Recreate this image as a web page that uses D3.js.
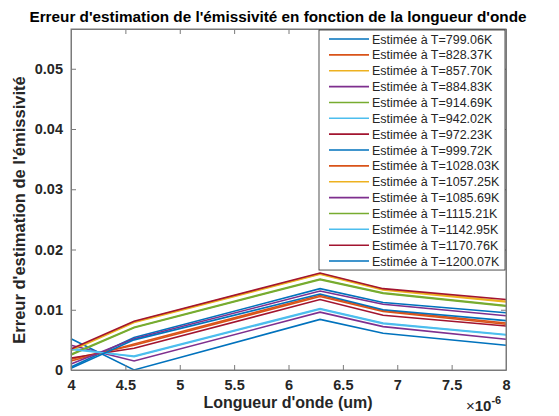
<!DOCTYPE html>
<html>
<head>
<meta charset="utf-8">
<script src="https://cdn.jsdelivr.net/npm/d3@7"></script>
<style>
body { margin: 0; background: #fff; }
text { font-family: "Liberation Sans", Arial, sans-serif; }
.tick text { font-weight: bold; font-size: 14.5px; fill: #262626; }
.label { font-weight: bold; font-size: 16px; fill: #262626; }
</style>
</head>
<body>
<svg id="chart" width="559" height="416"></svg>
<script>
// longueurs d'onde (m)
var wavelengths = [4.0e-6, 4.58e-6, 6.29e-6, 6.87e-6, 8.0e-6];
var temperatures = ["799.06", "828.37", "857.70", "884.83", "914.69", "942.02", "972.23", "999.72",
  "1028.03", "1057.25", "1085.69", "1115.21", "1142.95", "1170.76", "1200.07"];
var errors = [
  [0.0052, 0.0000, 0.0084, 0.0061, 0.0041],
  [0.0018, 0.0041, 0.0122, 0.0097, 0.0076],
  [0.0032, 0.0079, 0.0159, 0.0133, 0.0113],
  [0.0041, 0.0015, 0.0096, 0.0072, 0.0051],
  [0.0025, 0.0070, 0.0150, 0.0127, 0.0106],
  [0.0036, 0.0022, 0.0101, 0.0077, 0.0058],
  [0.0020, 0.0036, 0.0117, 0.0091, 0.0073],
  [0.0005, 0.0054, 0.0135, 0.0112, 0.0095],
  [0.0015, 0.0043, 0.0124, 0.0099, 0.0078],
  [0.0033, 0.0080, 0.0160, 0.0134, 0.0114],
  [0.0010, 0.0052, 0.0131, 0.0109, 0.0090],
  [0.0026, 0.0071, 0.0151, 0.0128, 0.0107],
  [0.0034, 0.0023, 0.0102, 0.0078, 0.0059],
  [0.0035, 0.0081, 0.0161, 0.0135, 0.0117],
  [0.0003, 0.0050, 0.0126, 0.0100, 0.0082]
];
var xTicks = [4, 4.5, 5, 5.5, 6, 6.5, 7, 7.5, 8];
var yTicks = [0, 0.01, 0.02, 0.03, 0.04, 0.05];
var colors = ['#0072BD', '#D95319', '#EDB120', '#7E2F8E', '#77AC30', '#4DBEEE', '#A2142F'];

var svg = d3.select('#chart');
var mLeft = 71, mRight = 506, mTop = 29, mBottom = 370;

var xScale = d3.scaleLinear().domain([4e-6, 8e-6]).range([mLeft, mRight]);
var yScale = d3.scaleLinear().domain([0, 0.0566]).range([mBottom, mTop]);

var axisColor = '#7a7a7a';

// lignes
var line = d3.line()
  .x(function(d, i) { return xScale(wavelengths[i]); })
  .y(function(d) { return yScale(d); });

var plot = svg.append('g');
errors.forEach(function(serie, i) {
  plot.append('path')
    .attr('d', line(serie))
    .attr('fill', 'none')
    .attr('stroke', colors[i % colors.length])
    .attr('stroke-width', 1.6);
});

// axes
var xBottom = svg.append('g').attr('transform', 'translate(0,' + mBottom + ')')
  .call(d3.axisBottom(xScale).tickValues(xTicks.map(function(t) { return t * 1e-6; }))
    .tickFormat(function(d) { return d3.format('')(+(d * 1e6).toFixed(2)); })
    .tickSizeInner(-5).tickSizeOuter(0).tickPadding(10));
var xTop = svg.append('g').attr('transform', 'translate(0,' + mTop + ')')
  .call(d3.axisTop(xScale).tickValues(xTicks.map(function(t) { return t * 1e-6; }))
    .tickFormat('').tickSizeInner(-5).tickSizeOuter(0));
var yLeft = svg.append('g').attr('transform', 'translate(' + mLeft + ',0)')
  .call(d3.axisLeft(yScale).tickValues(yTicks)
    .tickFormat(function(d) { return d === 0 ? '0' : d3.format('.2f')(d); })
    .tickSizeInner(-5).tickSizeOuter(0).tickPadding(8));
var yRight = svg.append('g').attr('transform', 'translate(' + mRight + ',0)')
  .call(d3.axisRight(yScale).tickValues(yTicks).tickFormat('').tickSizeInner(-5).tickSizeOuter(0));

[xBottom, xTop, yLeft, yRight].forEach(function(a) {
  a.select('.domain').attr('stroke', axisColor);
  a.selectAll('.tick line').attr('stroke', axisColor);
  a.attr('font-family', null).attr('font-size', null);
});
svg.append('rect').attr('x', mLeft).attr('y', mTop).attr('width', mRight - mLeft).attr('height', mBottom - mTop)
  .attr('fill', 'none').attr('stroke', axisColor).attr('stroke-width', 1);

// textes
svg.append('text').attr('class', 'label').attr('x', 278).attr('y', 22)
  .attr('text-anchor', 'middle').style('font-size', '15.3px').style('fill', '#000')
  .text("Erreur d'estimation de l'émissivité en fonction de la longueur d'onde");
svg.append('text').attr('class', 'label').attr('x', 288).attr('y', 408)
  .attr('text-anchor', 'middle').text("Longueur d'onde (um)");
svg.append('text').attr('class', 'label').attr('transform', 'translate(25,210) rotate(-90)')
  .attr('text-anchor', 'middle').style('font-size', '16.5px').text("Erreur d'estimation de l'émissivité");
var expo = svg.append('text').attr('class', 'label').attr('x', 466).attr('y', 411)
  .style('font-weight', 'normal');
expo.append('tspan').text('×').style('font-size', '15px');
expo.append('tspan').text('10').style('font-weight', 'bold').style('font-size', '15px');
expo.append('tspan').text('-6').attr('dy', -7).style('font-weight', 'bold').style('font-size', '11px');

// légende
var lgX = 319, lgY = 30, lgW = 186, rowH = 15.86;
var lgH = rowH * (temperatures.length - 1) + 18;
var legend = svg.append('g');
legend.append('rect').attr('x', lgX).attr('y', lgY).attr('width', lgW).attr('height', lgH)
  .attr('fill', '#fff').attr('stroke', '#262626').attr('stroke-width', 0.8);
temperatures.forEach(function(t, i) {
  var yy = lgY + 9 + i * rowH;
  legend.append('line').attr('x1', lgX + 10).attr('x2', lgX + 50).attr('y1', yy).attr('y2', yy)
    .attr('stroke', colors[i % colors.length]).attr('stroke-width', 1.6);
  legend.append('text').attr('x', lgX + 53).attr('y', yy + 4.5).style('font-size', '12.5px').style('fill', '#262626')
    .text('Estimée à T=' + t + 'K');
});
</script>
</body>
</html>
